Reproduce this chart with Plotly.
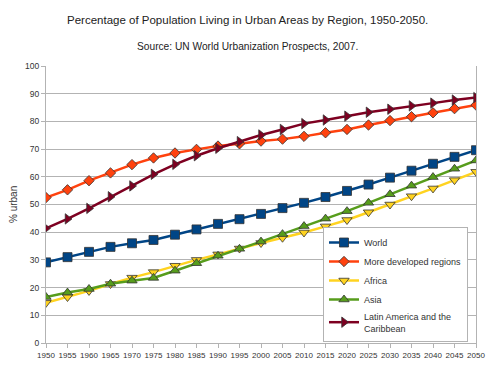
import plotly.graph_objects as go

years = list(range(1950, 2051, 5))
world = [29.1, 31.0, 32.9, 34.7, 36.0, 37.2, 39.1, 41.0, 43.0, 44.7, 46.6, 48.7, 50.6, 52.7, 54.9, 57.2, 59.7, 62.2, 64.7, 67.2, 69.6]
more_dev = [52.5, 55.3, 58.6, 61.4, 64.4, 66.8, 68.6, 69.9, 71.1, 71.9, 72.9, 73.6, 74.6, 75.9, 77.1, 78.7, 80.3, 81.7, 83.1, 84.6, 85.9]
africa = [14.5, 16.6, 18.8, 21.3, 23.6, 25.6, 27.9, 30.0, 32.0, 34.1, 36.1, 38.0, 39.9, 42.1, 44.4, 47.2, 50.0, 53.0, 55.8, 58.8, 61.8]
asia = [16.6, 18.2, 19.5, 21.4, 22.5, 23.5, 26.1, 28.8, 31.5, 34.0, 36.6, 39.3, 42.2, 44.9, 47.6, 50.6, 53.7, 56.8, 59.9, 62.9, 65.9]
latam = [41.4, 44.8, 48.6, 52.8, 56.7, 60.9, 64.5, 67.6, 70.3, 72.7, 75.1, 77.1, 79.2, 80.5, 81.9, 83.3, 84.4, 85.6, 86.6, 87.7, 88.6]

names = ["World", "More developed regions", "Africa", "Asia", "Latin America and the<br>Caribbean"]
series = [world, more_dev, africa, asia, latam]
colors = ["#004586", "#ff420e", "#ffd320", "#579d1c", "#7e0021"]
symbols = ["square", "diamond", "triangle-down", "triangle-up", "triangle-right"]
sizes = [9, 8, 9, 9, 9]

FONT = "Liberation Sans, Arial, sans-serif"
OFF = 8  # page body margin
W, H = 492, 367
L, T = 46 - OFF, 66 - OFF
R = W - (476 - OFF)
B = H - (343 - OFF)
plot_w = W - L - R
plot_h = H - T - B

def px_x(page_x):
    return (page_x - OFF - L) / plot_w

def px_y(page_y):
    return (H - B - (page_y - OFF)) / plot_h

fig = go.Figure()
for n, s, c, m, sz in zip(names, series, colors, symbols, sizes):
    fig.add_trace(go.Scatter(
        x=years, y=s, name=n, mode="lines+markers",
        line=dict(color=c, width=2.5),
        marker=dict(symbol=m, size=sz, color=c, line=dict(color="#333333", width=0.8)),
    ))

fig.update_layout(
    width=W, height=H,
    margin=dict(l=L, r=R, t=T, b=B, autoexpand=False),
    paper_bgcolor="white", plot_bgcolor="white",
    font=dict(family=FONT, color="#333333"),
    showlegend=True,
    legend=dict(
        x=px_x(468), y=px_y(227), xanchor="right", yanchor="top",
        bgcolor="white", bordercolor="#b3b3b3", borderwidth=1,
        font=dict(family=FONT, size=9, color="#333333"),
        itemwidth=30, tracegroupgap=0,
    ),
    annotations=[
        dict(text="Percentage of Population Living in Urban Areas by Region, 1950-2050.",
             x=px_x(247), y=px_y(20), xref="paper", yref="paper", showarrow=False,
             xanchor="center", yanchor="middle", font=dict(family=FONT, size=11.5, color="#222222")),
        dict(text="Source: UN World Urbanization Prospects, 2007.",
             x=px_x(247), y=px_y(46), xref="paper", yref="paper", showarrow=False,
             xanchor="center", yanchor="middle", font=dict(family=FONT, size=10.2, color="#222222")),
        dict(text="% urban", textangle=-90,
             x=px_x(13), y=px_y(205), xref="paper", yref="paper", showarrow=False,
             xanchor="center", yanchor="middle", font=dict(family=FONT, size=10, color="#333333")),
    ],
)

fig.update_xaxes(
    range=[1950, 2050], tickmode="array", tickvals=years,
    ticktext=[str(y) for y in years], tickangle=0, automargin=False,
    tickfont=dict(family=FONT, size=8, color="#333333"),
    showgrid=False, showline=True, linecolor="#b3b3b3", linewidth=1,
    ticks="outside", tickcolor="#b3b3b3", ticklen=4, zeroline=False,
    mirror=False,
)
fig.update_yaxes(
    range=[0, 100], dtick=10, automargin=False,
    tickfont=dict(family=FONT, size=8.5, color="#333333"),
    showgrid=True, gridcolor="#b3b3b3", gridwidth=1,
    showline=True, linecolor="#b3b3b3", linewidth=1, mirror=True,
    ticks="outside", tickcolor="#b3b3b3", ticklen=4, zeroline=False,
)

fig.write_html("out.html")
